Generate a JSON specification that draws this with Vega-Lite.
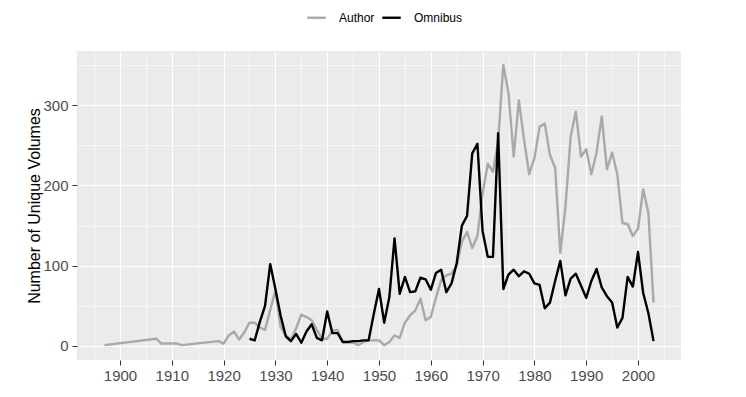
{
  "$schema": "https://vega.github.io/schema/vega-lite/v6.json",
  "width": 604,
  "height": 309,
  "autosize": {"type": "none"},
  "padding": {"left": 77, "top": 51, "right": 65, "bottom": 37},
  "background": "#FFFFFF",
  "config": {
    "view": {"fill": "#EBEBEB", "stroke": null},
    "font": "Liberation Sans"
  },
  "datasets": {
    "vols": [
      {"year": 1897, "type": "Author", "n": 1},
      {"year": 1907, "type": "Author", "n": 9},
      {"year": 1908, "type": "Author", "n": 3},
      {"year": 1909, "type": "Author", "n": 3},
      {"year": 1910, "type": "Author", "n": 3},
      {"year": 1911, "type": "Author", "n": 3},
      {"year": 1912, "type": "Author", "n": 1},
      {"year": 1919, "type": "Author", "n": 6},
      {"year": 1920, "type": "Author", "n": 3},
      {"year": 1921, "type": "Author", "n": 13},
      {"year": 1922, "type": "Author", "n": 18},
      {"year": 1923, "type": "Author", "n": 8},
      {"year": 1924, "type": "Author", "n": 17},
      {"year": 1925, "type": "Author", "n": 29},
      {"year": 1926, "type": "Author", "n": 29},
      {"year": 1927, "type": "Author", "n": 23},
      {"year": 1928, "type": "Author", "n": 20},
      {"year": 1929, "type": "Author", "n": 45},
      {"year": 1930, "type": "Author", "n": 69},
      {"year": 1931, "type": "Author", "n": 24},
      {"year": 1932, "type": "Author", "n": 13},
      {"year": 1933, "type": "Author", "n": 8},
      {"year": 1934, "type": "Author", "n": 22},
      {"year": 1935, "type": "Author", "n": 39},
      {"year": 1936, "type": "Author", "n": 36},
      {"year": 1937, "type": "Author", "n": 32},
      {"year": 1938, "type": "Author", "n": 20},
      {"year": 1939, "type": "Author", "n": 9},
      {"year": 1940, "type": "Author", "n": 9},
      {"year": 1941, "type": "Author", "n": 19},
      {"year": 1942, "type": "Author", "n": 20},
      {"year": 1943, "type": "Author", "n": 5},
      {"year": 1944, "type": "Author", "n": 5},
      {"year": 1945, "type": "Author", "n": 4},
      {"year": 1946, "type": "Author", "n": 1},
      {"year": 1947, "type": "Author", "n": 5},
      {"year": 1948, "type": "Author", "n": 7},
      {"year": 1949, "type": "Author", "n": 7},
      {"year": 1950, "type": "Author", "n": 7},
      {"year": 1951, "type": "Author", "n": 1},
      {"year": 1952, "type": "Author", "n": 5},
      {"year": 1953, "type": "Author", "n": 13},
      {"year": 1954, "type": "Author", "n": 10},
      {"year": 1955, "type": "Author", "n": 29},
      {"year": 1956, "type": "Author", "n": 38},
      {"year": 1957, "type": "Author", "n": 44},
      {"year": 1958, "type": "Author", "n": 59},
      {"year": 1959, "type": "Author", "n": 32},
      {"year": 1960, "type": "Author", "n": 36},
      {"year": 1961, "type": "Author", "n": 60},
      {"year": 1962, "type": "Author", "n": 82},
      {"year": 1963, "type": "Author", "n": 88},
      {"year": 1964, "type": "Author", "n": 90},
      {"year": 1965, "type": "Author", "n": 100},
      {"year": 1966, "type": "Author", "n": 130},
      {"year": 1967, "type": "Author", "n": 142},
      {"year": 1968, "type": "Author", "n": 122},
      {"year": 1969, "type": "Author", "n": 137},
      {"year": 1970, "type": "Author", "n": 190},
      {"year": 1971, "type": "Author", "n": 227},
      {"year": 1972, "type": "Author", "n": 217},
      {"year": 1973, "type": "Author", "n": 255},
      {"year": 1974, "type": "Author", "n": 350},
      {"year": 1975, "type": "Author", "n": 315},
      {"year": 1976, "type": "Author", "n": 236},
      {"year": 1977, "type": "Author", "n": 306},
      {"year": 1978, "type": "Author", "n": 257},
      {"year": 1979, "type": "Author", "n": 214},
      {"year": 1980, "type": "Author", "n": 234},
      {"year": 1981, "type": "Author", "n": 273},
      {"year": 1982, "type": "Author", "n": 277},
      {"year": 1983, "type": "Author", "n": 238},
      {"year": 1984, "type": "Author", "n": 222},
      {"year": 1985, "type": "Author", "n": 116},
      {"year": 1986, "type": "Author", "n": 174},
      {"year": 1987, "type": "Author", "n": 261},
      {"year": 1988, "type": "Author", "n": 292},
      {"year": 1989, "type": "Author", "n": 236},
      {"year": 1990, "type": "Author", "n": 245},
      {"year": 1991, "type": "Author", "n": 214},
      {"year": 1992, "type": "Author", "n": 241},
      {"year": 1993, "type": "Author", "n": 286},
      {"year": 1994, "type": "Author", "n": 220},
      {"year": 1995, "type": "Author", "n": 241},
      {"year": 1996, "type": "Author", "n": 214},
      {"year": 1997, "type": "Author", "n": 153},
      {"year": 1998, "type": "Author", "n": 152},
      {"year": 1999, "type": "Author", "n": 137},
      {"year": 2000, "type": "Author", "n": 146},
      {"year": 2001, "type": "Author", "n": 195},
      {"year": 2002, "type": "Author", "n": 166},
      {"year": 2003, "type": "Author", "n": 54},
      {"year": 1925, "type": "Omnibus", "n": 9},
      {"year": 1926, "type": "Omnibus", "n": 7},
      {"year": 1927, "type": "Omnibus", "n": 30},
      {"year": 1928, "type": "Omnibus", "n": 50},
      {"year": 1929, "type": "Omnibus", "n": 102},
      {"year": 1930, "type": "Omnibus", "n": 71},
      {"year": 1931, "type": "Omnibus", "n": 38},
      {"year": 1932, "type": "Omnibus", "n": 12},
      {"year": 1933, "type": "Omnibus", "n": 6},
      {"year": 1934, "type": "Omnibus", "n": 15},
      {"year": 1935, "type": "Omnibus", "n": 4},
      {"year": 1936, "type": "Omnibus", "n": 18},
      {"year": 1937, "type": "Omnibus", "n": 27},
      {"year": 1938, "type": "Omnibus", "n": 10},
      {"year": 1939, "type": "Omnibus", "n": 7},
      {"year": 1940, "type": "Omnibus", "n": 43},
      {"year": 1941, "type": "Omnibus", "n": 16},
      {"year": 1942, "type": "Omnibus", "n": 16},
      {"year": 1943, "type": "Omnibus", "n": 5},
      {"year": 1944, "type": "Omnibus", "n": 5},
      {"year": 1945, "type": "Omnibus", "n": 6},
      {"year": 1946, "type": "Omnibus", "n": 6},
      {"year": 1947, "type": "Omnibus", "n": 7},
      {"year": 1948, "type": "Omnibus", "n": 7},
      {"year": 1949, "type": "Omnibus", "n": 40},
      {"year": 1950, "type": "Omnibus", "n": 71},
      {"year": 1951, "type": "Omnibus", "n": 29},
      {"year": 1952, "type": "Omnibus", "n": 61},
      {"year": 1953, "type": "Omnibus", "n": 134},
      {"year": 1954, "type": "Omnibus", "n": 65},
      {"year": 1955, "type": "Omnibus", "n": 86},
      {"year": 1956, "type": "Omnibus", "n": 67},
      {"year": 1957, "type": "Omnibus", "n": 68},
      {"year": 1958, "type": "Omnibus", "n": 85},
      {"year": 1959, "type": "Omnibus", "n": 83},
      {"year": 1960, "type": "Omnibus", "n": 70},
      {"year": 1961, "type": "Omnibus", "n": 91},
      {"year": 1962, "type": "Omnibus", "n": 95},
      {"year": 1963, "type": "Omnibus", "n": 67},
      {"year": 1964, "type": "Omnibus", "n": 78},
      {"year": 1965, "type": "Omnibus", "n": 103},
      {"year": 1966, "type": "Omnibus", "n": 150},
      {"year": 1967, "type": "Omnibus", "n": 162},
      {"year": 1968, "type": "Omnibus", "n": 240},
      {"year": 1969, "type": "Omnibus", "n": 252},
      {"year": 1970, "type": "Omnibus", "n": 143},
      {"year": 1971, "type": "Omnibus", "n": 111},
      {"year": 1972, "type": "Omnibus", "n": 111},
      {"year": 1973, "type": "Omnibus", "n": 265},
      {"year": 1974, "type": "Omnibus", "n": 71},
      {"year": 1975, "type": "Omnibus", "n": 89},
      {"year": 1976, "type": "Omnibus", "n": 95},
      {"year": 1977, "type": "Omnibus", "n": 87},
      {"year": 1978, "type": "Omnibus", "n": 93},
      {"year": 1979, "type": "Omnibus", "n": 90},
      {"year": 1980, "type": "Omnibus", "n": 78},
      {"year": 1981, "type": "Omnibus", "n": 76},
      {"year": 1982, "type": "Omnibus", "n": 47},
      {"year": 1983, "type": "Omnibus", "n": 54},
      {"year": 1984, "type": "Omnibus", "n": 81},
      {"year": 1985, "type": "Omnibus", "n": 106},
      {"year": 1986, "type": "Omnibus", "n": 63},
      {"year": 1987, "type": "Omnibus", "n": 84},
      {"year": 1988, "type": "Omnibus", "n": 90},
      {"year": 1989, "type": "Omnibus", "n": 75},
      {"year": 1990, "type": "Omnibus", "n": 60},
      {"year": 1991, "type": "Omnibus", "n": 81},
      {"year": 1992, "type": "Omnibus", "n": 96},
      {"year": 1993, "type": "Omnibus", "n": 73},
      {"year": 1994, "type": "Omnibus", "n": 62},
      {"year": 1995, "type": "Omnibus", "n": 54},
      {"year": 1996, "type": "Omnibus", "n": 23},
      {"year": 1997, "type": "Omnibus", "n": 35},
      {"year": 1998, "type": "Omnibus", "n": 86},
      {"year": 1999, "type": "Omnibus", "n": 74},
      {"year": 2000, "type": "Omnibus", "n": 117},
      {"year": 2001, "type": "Omnibus", "n": 66},
      {"year": 2002, "type": "Omnibus", "n": 41},
      {"year": 2003, "type": "Omnibus", "n": 6}
    ]
  },
  "data": {"name": "vols"},
  "mark": {"type": "line", "strokeWidth": 2.4, "strokeJoin": "round", "clip": true},
  "encoding": {
    "x": {
      "field": "year",
      "type": "quantitative",
      "scale": {"domain": [1891.7, 2008.3], "nice": false, "zero": false},
      "axis": {
        "title": null,
        "values": [1895, 1900, 1905, 1910, 1915, 1920, 1925, 1930, 1935, 1940, 1945, 1950, 1955, 1960, 1965, 1970, 1975, 1980, 1985, 1990, 1995, 2000, 2005],
        "format": "d",
        "labelExpr": "datum.value % 10 === 0 ? datum.label : ''",
        "domain": false,
        "grid": true,
        "gridColor": "#FFFFFF",
        "gridWidth": {"condition": {"test": "datum.value % 10 === 5", "value": 0.55}, "value": 1.1},
        "tickColor": "#333333",
        "tickSize": 5,
        "tickWidth": 1,
        "tickOpacity": {"condition": {"test": "datum.value % 10 === 5", "value": 0}, "value": 1},
        "labelColor": "#4D4D4D",
        "labelFontSize": 15,
        "labelPadding": 3,
        "labelFlush": false,
        "labelOverlap": false
      }
    },
    "y": {
      "field": "n",
      "type": "quantitative",
      "scale": {"domain": [-17.5, 367.5], "nice": false, "zero": false},
      "axis": {
        "title": "Number of Unique Volumes",
        "values": [0, 50, 100, 150, 200, 250, 300, 350],
        "labelExpr": "datum.value % 100 === 0 ? datum.label : ''",
        "domain": false,
        "grid": true,
        "gridColor": "#FFFFFF",
        "gridWidth": {"condition": {"test": "datum.value % 100 === 50", "value": 0.55}, "value": 1.1},
        "tickColor": "#333333",
        "tickSize": 5,
        "tickWidth": 1,
        "tickOpacity": {"condition": {"test": "datum.value % 100 === 50", "value": 0}, "value": 1},
        "labelColor": "#4D4D4D",
        "labelFontSize": 15,
        "labelPadding": 4,
        "labelFlush": false,
        "labelOverlap": false,
        "titleFontSize": 16,
        "titleFontWeight": "normal",
        "titleColor": "#000000",
        "titlePadding": 0
      }
    },
    "color": {
      "field": "type",
      "type": "nominal",
      "scale": {"domain": ["Author", "Omnibus"], "range": ["#A9A9A9", "#000000"]},
      "legend": {
        "title": null,
        "orient": "none",
        "legendX": 229,
        "legendY": -44,
        "direction": "horizontal",
        "symbolType": "stroke",
        "symbolStrokeWidth": 2.4,
        "symbolSize": 340,
        "labelFontSize": 12,
        "labelColor": "#000000",
        "labelOffset": 12,
        "columnPadding": 2
      }
    }
  }
}
